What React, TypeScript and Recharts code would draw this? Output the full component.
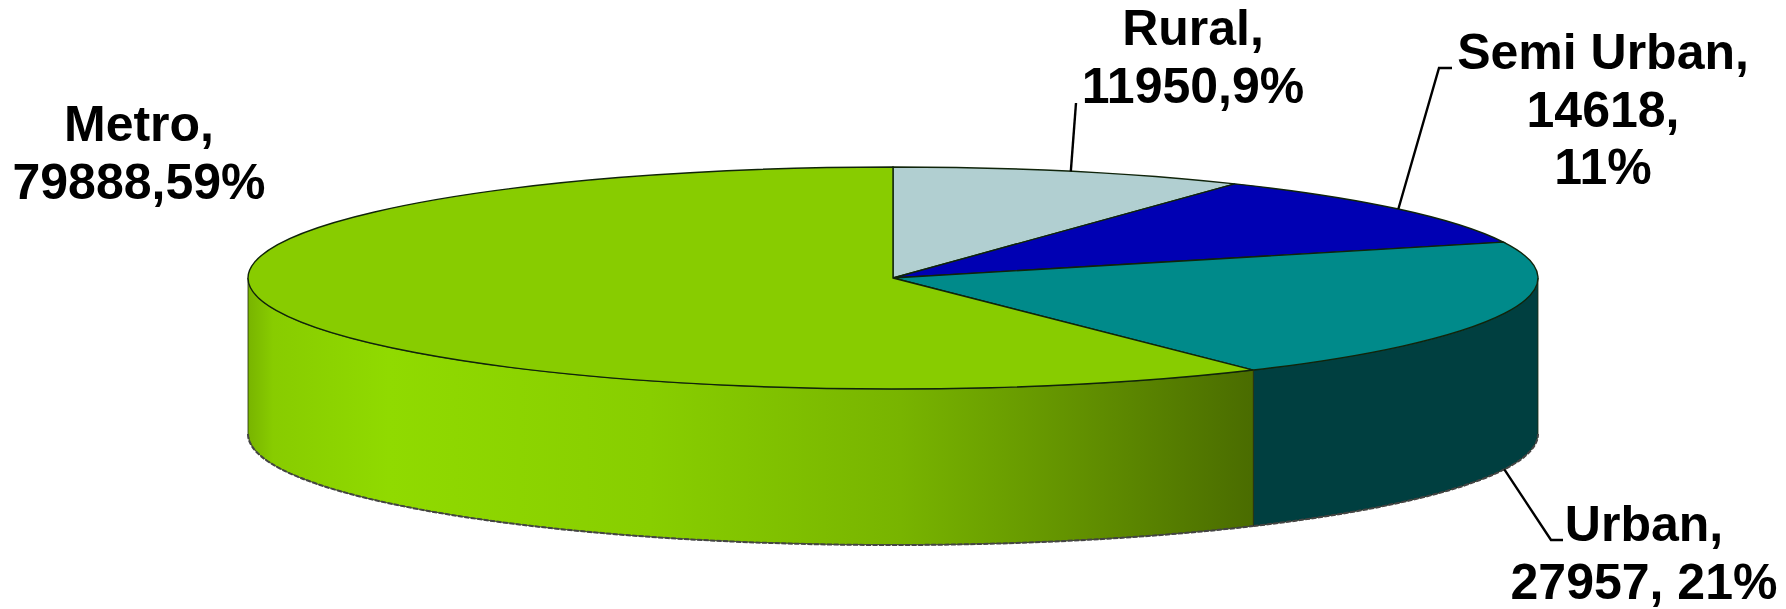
import { PieChart, Pie, Cell } from "recharts";

const categories = ["Rural", "Semi Urban", "Urban", "Metro"];
const values = [11950, 14618, 27957, 79888];
const labelText = [
  ["Rural,", "11950,9%"],
  ["Semi Urban,", "14618,", "11%"],
  ["Urban,", "27957, 21%"],
  ["Metro,", "79888,59%"],
];
const topColors = ["#B1CFD1", "#0000B3", "#008A8A", "#88CC00"];
const wallColors = ["#6f8a8b", "#000070", "#003F40", "url(#metroWall)"];

const data = categories.map((name, i) => ({ name, value: values[i] }));

// Pie is drawn flat by recharts' angles, then projected on to an ellipse here.
const W = 1786;
const H = 609;
const CX = 893;
const CY = 278;
const RX = 645;
const RY = 111;
const DEPTH = 156;

const rad = (a: number) => (a * Math.PI) / 180;
const px = (a: number) => CX + RX * Math.cos(rad(a));
const py = (a: number) => CY - RY * Math.sin(rad(a));

function Slice3D(props: any) {
  const { startAngle, endAngle, index } = props;
  const large = startAngle - endAngle > 180 ? 1 : 0;
  const top =
    `M${CX},${CY} L${px(startAngle)},${py(startAngle)} ` +
    `A${RX},${RY} 0 ${large} 1 ${px(endAngle)},${py(endAngle)} Z`;
  const a0 = Math.min(startAngle, 0);
  const a1 = Math.max(endAngle, -180);
  const hasWall = a0 > a1;
  const x0 = px(a0);
  const y0 = py(a0);
  const x1 = px(a1);
  const y1 = py(a1);
  return (
    <g>
      {index === 3 && (
        <defs>
          <linearGradient id="metroWall" gradientUnits="userSpaceOnUse" x1={248} y1={0} x2={1253} y2={0}>
            <stop offset="0%" stopColor="#78B400" />
            <stop offset="2.5%" stopColor="#88CC00" />
            <stop offset="14%" stopColor="#90DA00" />
            <stop offset="40%" stopColor="#88CE00" />
            <stop offset="65%" stopColor="#78B400" />
            <stop offset="85%" stopColor="#5F8C00" />
            <stop offset="100%" stopColor="#4A6C00" />
          </linearGradient>
        </defs>
      )}
      {hasWall && (
        <path
          d={
            `M${x0},${y0} A${RX},${RY} 0 0 1 ${x1},${y1} ` +
            `L${x1},${y1 + DEPTH} A${RX},${RY} 0 0 0 ${x0},${y0 + DEPTH} Z`
          }
          fill={wallColors[index]}
          stroke="#1f2a10"
          strokeWidth={0.8}
        />
      )}
      {hasWall && (
        <path
          d={`M${x1},${y1 + DEPTH} A${RX},${RY} 0 0 0 ${x0},${y0 + DEPTH}`}
          fill="none"
          stroke="#444"
          strokeWidth={2}
          strokeDasharray="5 1.5"
        />
      )}
      <path d={top} fill={topColors[index]} stroke="#10240a" strokeWidth={1.4} />
    </g>
  );
}

// [text centre x, first baseline y]
const labelAnchors = [
  [1193, 45],
  [1603, 69],
  [1644, 541],
  [139, 141],
];
const LINE_HEIGHT = 57.5;
// leader elbows from the rim out to the text
const leaders: number[][][] = [
  [[1076, 103]],
  [[1439, 68], [1452, 68]],
  [[1551, 540], [1563, 540]],
  [],
];

function SliceLabel(props: any) {
  const { index, midAngle } = props;
  const [x, y] = labelAnchors[index];
  const lower = midAngle < 0 && midAngle > -180;
  const rimX = px(midAngle);
  const rimY = py(midAngle) + (lower ? DEPTH : 0);
  const elbows = leaders[index];
  return (
    <g>
      {elbows.length > 0 && (
        <polyline
          points={[[rimX, rimY], ...elbows].map((p) => p.join(",")).join(" ")}
          fill="none"
          stroke="#000"
          strokeWidth={2.4}
        />
      )}
      <text
        textAnchor="middle"
        fontFamily="'Liberation Sans', Arial, sans-serif"
        fontWeight={700}
        fontSize={50}
        fill="#000"
      >
        {labelText[index].map((line, i) => (
          <tspan key={i} x={x} y={y + i * LINE_HEIGHT}>
            {line}
          </tspan>
        ))}
      </text>
    </g>
  );
}

export default function App() {
  return (
    <div style={{ position: "absolute", left: 0, top: 0, width: W, height: H, background: "#fff" }}>
      <PieChart width={W} height={H} margin={{ top: 0, right: 0, bottom: 0, left: 0 }}>
        <Pie
          data={data}
          dataKey="value"
          nameKey="name"
          cx={CX}
          cy={CY}
          outerRadius={RX}
          startAngle={90}
          endAngle={-270}
          stroke="none"
          shape={Slice3D}
          label={SliceLabel}
          labelLine={false}
          isAnimationActive={false}
        >
          {data.map((d, i) => (
            <Cell key={d.name} fill={topColors[i]} />
          ))}
        </Pie>
      </PieChart>
    </div>
  );
}
